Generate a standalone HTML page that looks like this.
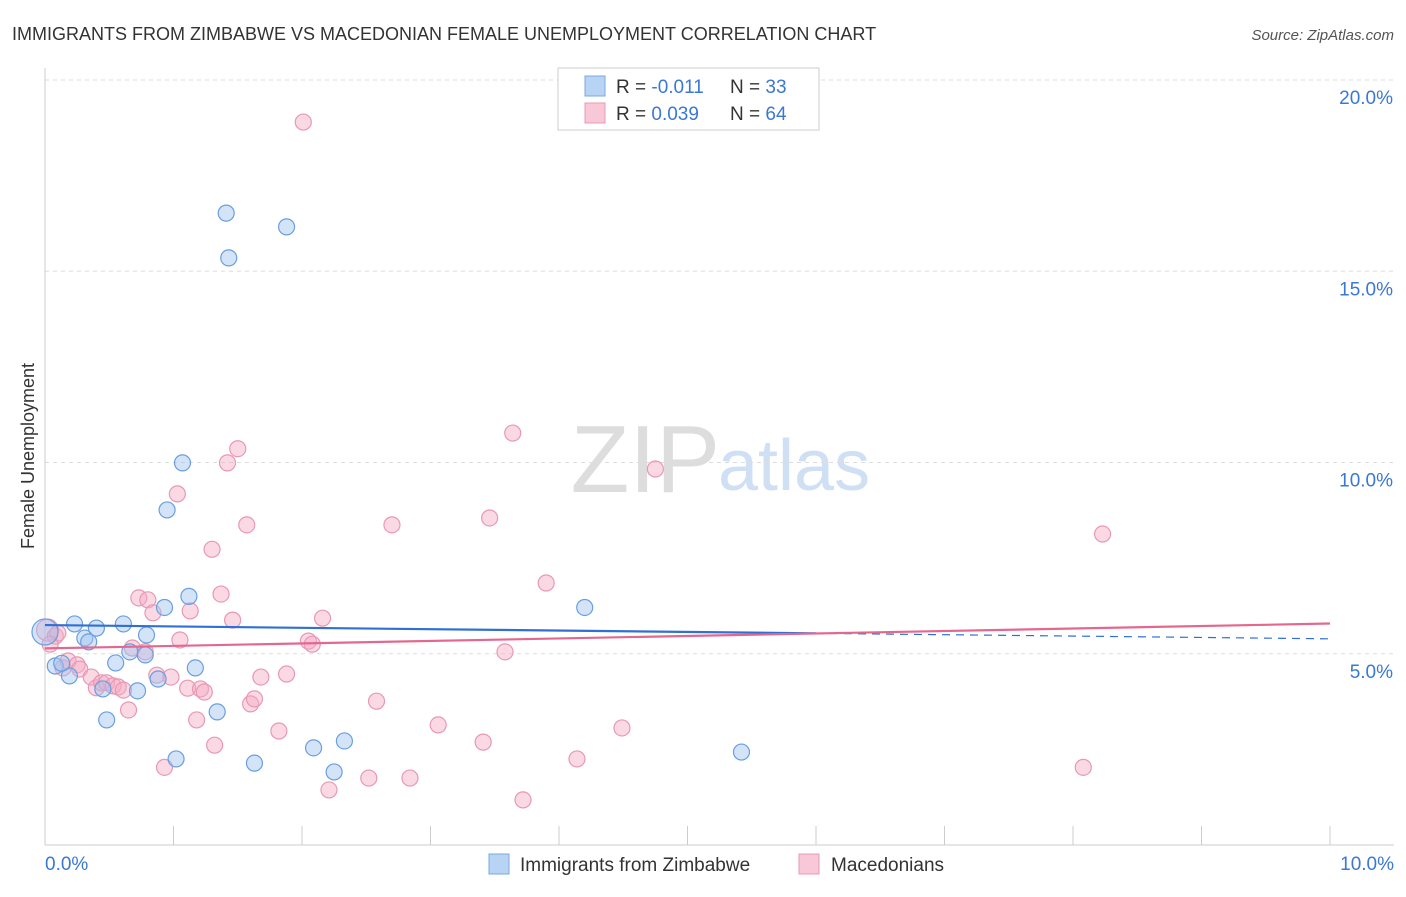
<!DOCTYPE html>
<html><head><meta charset="utf-8"><style>
body{margin:0;background:#fff;font-family:"Liberation Sans",sans-serif}
svg text{font-family:"Liberation Sans",sans-serif}
</style></head><body>
<svg id="chart" width="1406" height="892">
<text x="12" y="40" font-size="18" fill="#333">IMMIGRANTS FROM ZIMBABWE VS MACEDONIAN FEMALE UNEMPLOYMENT CORRELATION CHART</text>
<text x="1394" y="40" font-size="15" fill="#555" font-style="italic" text-anchor="end">Source: ZipAtlas.com</text>
<text x="34" y="456" font-size="18" fill="#333" transform="rotate(-90 34 456)" text-anchor="middle">Female Unemployment</text>
<text x="720" y="492" font-size="96" fill="#ddd" text-anchor="end" font-family="Liberation Serif">ZIP</text>
<text x="718" y="490" font-size="72" fill="#cfe0f4">atlas</text>
<g id="grid"></g><g id="axes"></g><g id="points"></g><g id="trends"></g>
<g>
<rect x="558" y="68" width="261" height="62" fill="#fff" stroke="#ccc"/>
<rect x="585" y="76" width="20" height="20" fill="#b8d4f4" stroke="#7aa8e0"/>
<rect x="585" y="103" width="20" height="20" fill="#f8c8d8" stroke="#e898b4"/>
<text x="616" y="93" font-size="19" fill="#333">R = <tspan fill="#3a78d4">-0.011</tspan><tspan x="730">N = </tspan><tspan fill="#3a78d4">33</tspan></text>
<text x="616" y="120" font-size="19" fill="#333">R = <tspan fill="#3a78d4"> 0.039</tspan><tspan x="730">N = </tspan><tspan fill="#3a78d4">64</tspan></text>
</g>
<g>
<rect x="489" y="854" width="20" height="20" fill="#b8d4f4" stroke="#7aa8e0"/>
<text x="520" y="871" font-size="19" fill="#333">Immigrants from Zimbabwe</text>
<rect x="799" y="854" width="20" height="20" fill="#f8c8d8" stroke="#e898b4"/>
<text x="831" y="871" font-size="19" fill="#333">Macedonians</text>
</g>
</svg>
<script>
const yTicks=[5,10,15,20];
const yTickLabels=["5.0%","10.0%","15.0%","20.0%"];
const xTickLabels=["0.0%","10.0%"];
const blueX=[0.0,0.08,0.19,0.23,0.31,0.34,0.4,0.45,0.48,0.55,0.61,0.66,0.72,0.78,0.79,0.88,0.93,0.95,1.02,1.07,1.12,1.17,1.34,1.41,1.43,1.63,1.88,2.09,2.25,2.33,4.2,5.42,0.13];
const blueY=[5.57,4.68,4.42,5.78,5.41,5.31,5.67,4.08,3.27,4.76,5.78,5.05,4.03,4.97,5.49,4.34,6.21,8.76,2.25,9.99,6.5,4.63,3.48,16.52,15.35,2.14,16.16,2.54,1.91,2.72,6.21,2.43,4.75];
const pinkX=[0.02,0.08,0.1,0.14,0.18,0.25,0.27,0.36,0.4,0.44,0.48,0.53,0.57,0.61,0.65,0.68,0.73,0.78,0.8,0.84,0.87,0.93,0.98,1.03,1.05,1.11,1.13,1.18,1.21,1.24,1.3,1.32,1.37,1.42,1.46,1.5,1.57,1.6,1.63,1.68,1.82,1.88,2.01,2.05,2.08,2.16,2.21,2.52,2.58,2.7,2.84,3.06,3.41,3.46,3.58,3.64,3.72,3.9,4.14,4.49,4.75,8.08,8.23,0.04];
const pinkY=[5.62,5.46,5.54,4.63,4.81,4.71,4.6,4.39,4.11,4.24,4.24,4.16,4.13,4.05,3.53,5.15,6.46,5.05,6.41,6.07,4.44,2.03,4.39,9.18,5.36,4.1,6.12,3.27,4.08,4.0,7.73,2.61,6.56,9.99,5.88,10.36,8.37,3.69,3.82,4.39,2.98,4.47,18.9,5.33,5.25,5.93,1.44,1.75,3.76,8.37,1.75,3.14,2.69,8.55,5.05,10.77,1.18,6.85,2.25,3.06,9.83,2.03,8.13,5.25];
const blueTrend=[5.75,5.39];
const pinkTrend=[5.14,5.79];
const NS="http://www.w3.org/2000/svg";
const X0=45,X1=1330,Y0=845,YS=38.25;
const sx=v=>X0+(v/10)*(X1-X0);
const sy=v=>Y0-v*YS;
function mk(t,a,p){const e=document.createElementNS(NS,t);for(const k in a)e.setAttribute(k,a[k]);p.appendChild(e);return e;}
const grid=document.getElementById('grid'),axes=document.getElementById('axes');
yTicks.forEach((v,i)=>{
 const l=mk('line',{x1:45,x2:1394,y1:sy(v),y2:sy(v),stroke:'#ddd','stroke-dasharray':'4,4'},grid);
 
 
 const t=mk('text',{x:1393,y:sy(v)+24,'font-size':19,fill:'#3a78d4','text-anchor':'end'},axes);
 t.textContent=yTickLabels[i];
 
 
});
mk('line',{x1:45,x2:45,y1:68,y2:845,stroke:'#ccc'},axes);
mk('line',{x1:45,x2:1394,y1:845,y2:845,stroke:'#ccc'},axes);
for(let i=0;i<=10;i++){const t=mk('line',{x1:sx(i),x2:sx(i),y1:826,y2:845,stroke:'#ccc'},axes);
 
 }
[[45,'start'],[1394,'end']].forEach((p,i)=>{const t=mk('text',{x:p[0],y:870,'font-size':19,fill:'#3a78d4','text-anchor':p[1]},axes);t.textContent=xTickLabels[i];
 
 });
const pts=document.getElementById('points');
pinkX.forEach((x,i)=>{const c=mk('circle',{cx:sx(x),cy:sy(pinkY[i]),r:i==0?11:8,fill:'rgba(244,170,196,0.45)',stroke:'#e898b4','stroke-width':1.2},pts);
 
 });
blueX.forEach((x,i)=>{const c=mk('circle',{cx:sx(x),cy:sy(blueY[i]),r:i==0?13:8,fill:'rgba(160,196,240,0.45)',stroke:'#6a9ee0','stroke-width':1.2},pts);
 
 });
const tr=document.getElementById('trends');
const bm=blueTrend[0]+(blueTrend[1]-blueTrend[0])*0.6;
const b1=mk('line',{x1:sx(0),y1:sy(blueTrend[0]),x2:sx(6),y2:sy(bm),stroke:'#2f6fd6','stroke-width':2.2},tr);


const b2=mk('line',{x1:sx(6),y1:sy(bm),x2:sx(10),y2:sy(blueTrend[1]),stroke:'#2f6fd6','stroke-width':1.2,'stroke-dasharray':'8,6'},tr);


const p1=mk('line',{x1:sx(0),y1:sy(pinkTrend[0]),x2:sx(10),y2:sy(pinkTrend[1]),stroke:'#e4688e','stroke-width':2.2},tr);


</script>
</body></html>
